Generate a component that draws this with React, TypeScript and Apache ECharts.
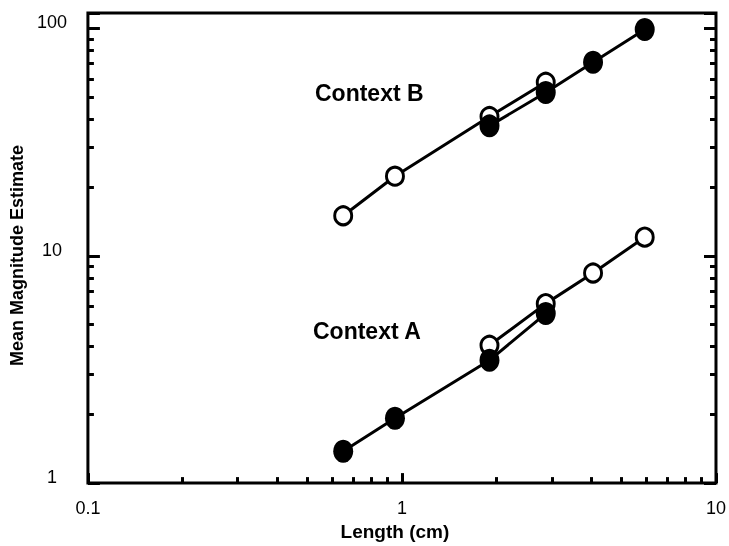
import React, { useEffect, useRef } from "react";
import * as echarts from "echarts";

const lengthsShort = [0.65, 0.95, 1.9, 2.87];
const lengthsLong = [1.9, 2.87, 4.06, 5.93];
const contextBOpen = [15, 22.4, 41, 58];
const contextBFilled = [37.3, 52.3, 71, 99];
const contextAFilled = [1.38, 1.93, 3.47, 5.57];
const contextAOpen = [4.04, 6.16, 8.4, 12.08];
const xTickLabels = [0.1, 1, 10];
const yTickLabels = [1, 10, 100];

const FONT = "'Liberation Sans', Arial, Helvetica, sans-serif";

const isPow10 = (v: number) => Math.abs(Math.log10(v) - Math.round(Math.log10(v))) < 1e-6;

function pairs(xs: number[], ys: number[]) {
  return xs.map((x, i) => [x, ys[i]]);
}

export default function App() {
  const ref = useRef<HTMLDivElement>(null);
  useEffect(() => {
    document.body.style.margin = "0";
    const chart = echarts.init(ref.current!, null, { renderer: "svg" });
    const openSeries = (data: number[][]) => ({
      type: "line",
      data,
      symbol: "circle",
      symbolSize: [17, 18],
      lineStyle: { color: "#000", width: 3 },
      itemStyle: { color: "#fff", borderColor: "#000", borderWidth: 3 },
      z: 2,
    });
    const filledSeries = (data: number[][]) => ({
      type: "line",
      data,
      symbol: "circle",
      symbolSize: [20, 23],
      lineStyle: { color: "#000", width: 3 },
      itemStyle: { color: "#000", borderColor: "#000", borderWidth: 0 },
      z: 3,
    });
    const yCommon = {
      type: "log",
      logBase: 10,
      min: 1,
      max: 117,
      splitLine: { show: false },
      axisLine: { show: false },
      axisTick: { show: true, inside: true, length: 12, lineStyle: { color: "#000", width: 3 } },
      minorTick: { show: true, splitNumber: 9, length: 6, lineStyle: { color: "#000", width: 3 } },
      minorSplitLine: { show: false },
    };
    chart.setOption({
      animation: false,
      grid: {
        left: 84,
        right: 10,
        top: 13,
        bottom: 61,
        show: true,
        borderColor: "#000",
        borderWidth: 3,
        backgroundColor: "transparent",
      },
      xAxis: [
        {
          type: "log",
          logBase: 10,
          min: 0.1,
          max: 10,
          position: "bottom",
          name: "Length (cm)",
          nameLocation: "middle",
          nameGap: 38,
          nameTextStyle: { fontFamily: FONT, fontWeight: "bold", fontSize: 19, color: "#000", padding: [0, 14, 0, 0] },
          splitLine: { show: false },
          axisLine: { show: false },
          axisTick: { show: true, inside: true, length: 10, lineStyle: { color: "#000", width: 3 } },
          minorTick: { show: true, splitNumber: 9, length: 6, lineStyle: { color: "#000", width: 3 } },
          axisLabel: {
            fontFamily: FONT,
            fontSize: 18,
            color: "#000",
            margin: 16,
            formatter: (v: number) => (xTickLabels.some((t) => Math.abs(t - v) < 1e-9) ? String(v) : ""),
          },
        },
      ],
      yAxis: [
        {
          ...yCommon,
          position: "left",
          name: "Mean Magnitude Estimate",
          nameLocation: "middle",
          nameGap: 57,
          nameTextStyle: { fontFamily: FONT, fontWeight: "bold", fontSize: 18, color: "#000", padding: [0, 15, 0, 0] },
          axisLabel: {
            fontFamily: FONT,
            fontSize: 18,
            color: "#000",
            margin: 36,
            align: "center",
            verticalAlign: "bottom",
            lineHeight: 12,
            formatter: (v: number) =>
              isPow10(v) && yTickLabels.some((t) => Math.abs(t - v) < 1e-6) ? String(Math.round(v)) : "",
          },
        },
        {
          ...yCommon,
          position: "right",
          axisLabel: { show: false },
        },
      ],
      series: [
        openSeries(pairs(lengthsShort, contextBOpen)),
        filledSeries(pairs(lengthsLong, contextBFilled)),
        openSeries(pairs(lengthsLong, contextAOpen)),
        filledSeries(pairs(lengthsShort, contextAFilled)),
      ],
      graphic: [
        {
          type: "text",
          x: 315,
          y: 93,
          style: { text: "Context B", font: `bold 23px ${FONT}`, fill: "#000", textVerticalAlign: "middle" },
        },
        {
          type: "text",
          x: 313,
          y: 331,
          style: { text: "Context A", font: `bold 23px ${FONT}`, fill: "#000", textVerticalAlign: "middle" },
        },
      ],
    });
    return () => chart.dispose();
  }, []);
  return <div ref={ref} style={{ position: "fixed", left: 0, top: 0, width: 729, height: 546 }} />;
}
